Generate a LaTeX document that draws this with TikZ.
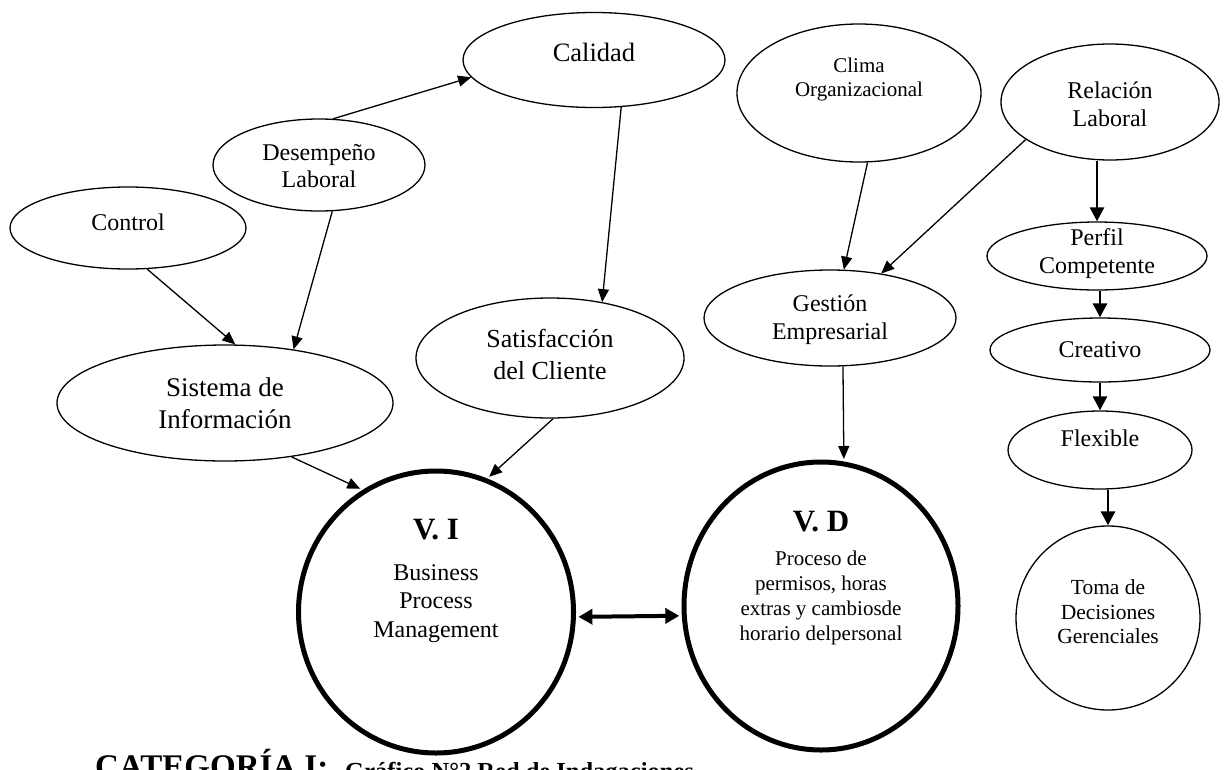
\documentclass[tikz,border=0pt]{standalone}
\usepackage{fontspec}
\setmainfont{Liberation Serif}
\usetikzlibrary{arrows.meta,shapes.geometric}

\tikzset{
  oval/.style={ellipse, draw, line width=1.3pt, inner sep=0pt, fill=white},
  bigcirc/.style={ellipse, draw, line width=5pt, inner sep=0pt},
  lt/.style={align=center, inner sep=0pt},
  fA/.style={font=\fontsize{24}{27.5}\selectfont},
  fB/.style={font=\fontsize{26.5}{32}\selectfont},
  fC/.style={font=\fontsize{21}{24}\selectfont},
  fV/.style={font=\bfseries\fontsize{31}{36}\selectfont},
  link/.style={line width=1.3pt, -{Triangle[length=13pt,width=11pt]}},
  chainlink/.style={line width=2.6pt, -{Triangle[length=14pt,width=14pt]}},
  duplex/.style={line width=4pt, {Triangle[length=14pt,width=15pt]}-{Triangle[length=14pt,width=15pt]},
                 shorten <=2.5pt, shorten >=2.5pt},
}

\begin{document}
\begin{tikzpicture}[x=1pt, y=-1pt]
\useasboundingbox (0,0) rectangle (1229,769);

% left group
\node[oval, minimum width=236pt, minimum height=82pt,
      label={[lt,fA,yshift=6pt]center:Control}] (ctl) at (128,228) {};
\node[oval, minimum width=212pt, minimum height=92pt,
      label={[lt,fA,yshift=-1pt]center:Desempeño\\Laboral}] (des) at (319,165) {};
\node[oval, minimum width=336pt, minimum height=116pt,
      label={[lt,font=\fontsize{27}{32}\selectfont,yshift=0pt]center:Sistema de\\Información}] (sis) at (225,403) {};
\node[oval, minimum width=262pt, minimum height=95pt,
      label={[lt,fB,yshift=8pt]center:Calidad}] (cal) at (594,60) {};
\node[oval, minimum width=268pt, minimum height=120pt,
      label={[lt,font=\fontsize{26}{32}\selectfont,yshift=4pt]center:Satisfacción\\del Cliente}] (sat) at (550,358) {};

% middle group
\node[oval, minimum width=244pt, minimum height=138pt,
      label={[lt,fC,yshift=14pt]center:Clima\\Organizacional}] (cli) at (859,93) {};
\node[oval, minimum width=252pt, minimum height=96pt,
      label={[lt,font=\fontsize{24}{28}\selectfont,yshift=-2pt]center:Gestión\\Empresarial}] (ges) at (830,318) {};

% right column
\node[oval, minimum width=218pt, minimum height=116pt,
      label={[lt,font=\fontsize{24}{28}\selectfont,yshift=-2pt]center:Relación\\Laboral}] (rel) at (1110,102) {};
\node[oval, minimum width=220pt, minimum height=68pt,
      label={[lt,font=\fontsize{24}{28}\selectfont,yshift=2pt]center:Perfil\\Competente}] (per) at (1097,256) {};
\node[oval, minimum width=220pt, minimum height=64pt,
      label={[lt,fA,yshift=0pt]center:Creativo}] (cre) at (1100,350) {};
\node[oval, minimum width=184pt, minimum height=78pt,
      label={[lt,fA,yshift=12pt]center:Flexible}] (fle) at (1100,450) {};
\node[oval, minimum width=184pt, minimum height=184pt,
      label={[lt,font=\fontsize{21.5}{24.5}\selectfont,yshift=6pt]center:Toma de\\Decisiones\\Gerenciales}] (tom) at (1108,618) {};

% the two variables
\node[bigcirc, minimum width=275pt, minimum height=282pt,
      label={[lt,fV,yshift=82pt]center:V. I},
      label={[lt,font=\fontsize{24}{28.5}\selectfont,yshift=8.5pt]center:Business\\Process\\Management}] (vi) at (436,612) {};
\node[bigcirc, minimum width=274pt, minimum height=288pt,
      label={[lt,fV,yshift=84pt]center:V. D},
      label={[lt,font=\fontsize{21}{25}\selectfont,yshift=8.5pt]center:Proceso de\\permisos, horas\\extras y cambiosde\\horario delpersonal}] (vd) at (821,606) {};

% connectors
\draw[link] (ctl.-65) -- (sis.80);
\draw[link] (des.-74) -- (sis.38);
\draw[link] (des.73) -- (cal.188);
\draw[link] (cal.-60) -- (sat.47);
\draw[link, shorten >=2.5pt] (sat.-87) -- (vi.69);
\draw[link, shorten >=2.5pt] (sis.-39) -- (vi.121);
\draw[link] (cli.-83) -- (ges.74);
\draw[link] (rel.204) -- (ges.41);
\draw[link, shorten >=2.5pt] (ges.-75) -- (vd.81);
\draw[duplex] (vi.-2) -- (vd.184.5);

\draw[chainlink] (rel.south -| per.north) -- (per.north);
\draw[chainlink] (per.south -| cre.north) -- (cre.north);
\draw[chainlink] (cre.south) -- (fle.north);
\draw[chainlink] (fle.south -| tom.north) -- (tom.north);

% caption, cut by the page edge
\begin{scope}
  \clip (0,0) rectangle (1229,769);
  \node[anchor=base west, inner sep=0pt, font=\bfseries\fontsize{33}{38}\selectfont]
    (cat) at (95,777) {CATEGORÍA I:};
  \node[anchor=base west, inner sep=0pt, font=\bfseries\fontsize{24.5}{28}\selectfont]
    (cap) at (345,779) {Gráfico N°2 Red de Indagaciones};
\end{scope}
\end{tikzpicture}
\end{document}
